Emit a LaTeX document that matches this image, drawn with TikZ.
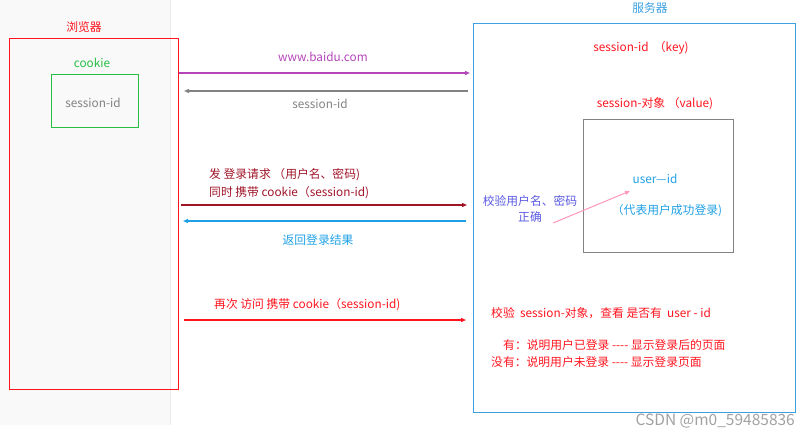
\documentclass[tikz,border=0pt]{standalone}
\usepackage{fontspec}
\setmainfont{Noto Sans CJK SC}
\usepackage{tikz}
\usetikzlibrary{arrows.meta, positioning}
\definecolor{PanelGray}{RGB}{249,249,249}
\definecolor{EdgeGray}{RGB}{236,236,236}
\definecolor{BoxRed}{RGB}{255,20,30}
\definecolor{CookieGreen}{RGB}{40,190,70}
\definecolor{ServerBlue}{RGB}{60,160,225}
\definecolor{UrlMagenta}{RGB}{180,70,185}
\definecolor{LoginRed}{RGB}{160,20,40}
\definecolor{ReplyCyan}{RGB}{30,160,230}
\definecolor{CheckBlue}{RGB}{90,90,225}
\definecolor{HintPink}{RGB}{255,150,190}
\definecolor{TextGray}{RGB}{130,130,130}

\begin{document}
\begin{tikzpicture}[x=1pt, y=-1pt,
				lbl/.style={inner sep=0pt, font=\fontsize{11.8}{14}\selectfont},
				arr/.style={-{Triangle[length=5pt, width=4pt]}, line width=1.2pt}]
			\useasboundingbox (0,0) rectangle (810,439);
			% browser side
			\fill[PanelGray] (0,0) rectangle (170,425);
			\draw[EdgeGray] (170,0) -- (170,425);
			\draw[BoxRed, line width=1pt] (9,38) rectangle (178,389);
			\node[lbl, BoxRed] (browser) at (84,27) {浏览器};
			\node[lbl, CookieGreen] (cookie) at (92,63) {cookie};
			\draw[CookieGreen, line width=1pt] (51,74) rectangle (138,127);
			\node[lbl, TextGray] (cid) at (93,103) {session-id};

			% server side
			\draw[ServerBlue, line width=1pt] (473,23) rectangle (795,412);
			\node[lbl, ServerBlue] (server) at (650,8) {服务器};
			\node[lbl, BoxRed] (key) at (641,48) {session-id \ （key)};
			\node[lbl, BoxRed] (val) at (655,104) {session-对象 （value)};
			\draw[TextGray, line width=1pt] (583,119) rectangle (733,252);
			\node[lbl, ReplyCyan] (uid) at (655,179) {user—id};
			\node[lbl, ReplyCyan] (ok) at (667,211) {（代表用户成功登录)};
			\node[lbl, CheckBlue, align=center] (check) at (530,209) {校验用户名、密码\\[2pt]正确};
			\coordinate (p1) at (553,223);
			\coordinate (p2) at (630,191);
			\draw[HintPink, -{Triangle[length=5pt, width=4pt]}, line width=1pt] (p1) -- (p2);

			% requests
			\coordinate (a1s) at (179,73);  \coordinate (a1e) at (470,73);
			\coordinate (a2s) at (468,91);  \coordinate (a2e) at (184,91);
			\coordinate (a3s) at (181,205); \coordinate (a3e) at (467,205);
			\coordinate (a4s) at (466,221); \coordinate (a4e) at (183,221);
			\coordinate (a5s) at (184,320); \coordinate (a5e) at (466,320);
			\draw[arr, UrlMagenta] (a1s) -- (a1e);
			\draw[arr, TextGray] (a2s) -- (a2e);
			\draw[arr, LoginRed] (a3s) -- (a3e);
			\draw[arr, ReplyCyan] (a4s) -- (a4e);
			\draw[arr, BoxRed] (a5s) -- (a5e);
			\node[lbl, UrlMagenta] (url) at (323,57) {www.baidu.com};
			\node[lbl, TextGray] (sid) at (320,104) {session-id};
			\node[lbl, LoginRed, anchor=west] (login1) at (209,175) {发 登录请求 （用户名、密码)};
			\node[lbl, LoginRed, anchor=west] (login2) at (209,193) {同时 携带 cookie（session-id)};
			\node[lbl, ReplyCyan] (result) at (318,240) {返回登录结果};
			\node[lbl, BoxRed, anchor=west] (again) at (214,305) {再次 访问 携带 cookie（session-id)};

			% check on server
			\node[lbl, BoxRed, anchor=west] (verify) at (491,313) {校验\ \ session-对象，查看 是否有\ \ user - id};
			\node[lbl, BoxRed, anchor=west] (yes) at (503,345) {有：说明用户已登录 -{}-{}-{}- 显示登录后的页面};
			\node[lbl, BoxRed, anchor=west] (no) at (491,362) {没有：说明用户未登录 -{}-{}-{}- 显示登录页面};
			\node[lbl, TextGray!75, anchor=east, font=\fontsize{15.5}{17}\selectfont] (mark) at (795,421) {CSDN @m0\_59485836};
		\end{tikzpicture}
\end{document}
